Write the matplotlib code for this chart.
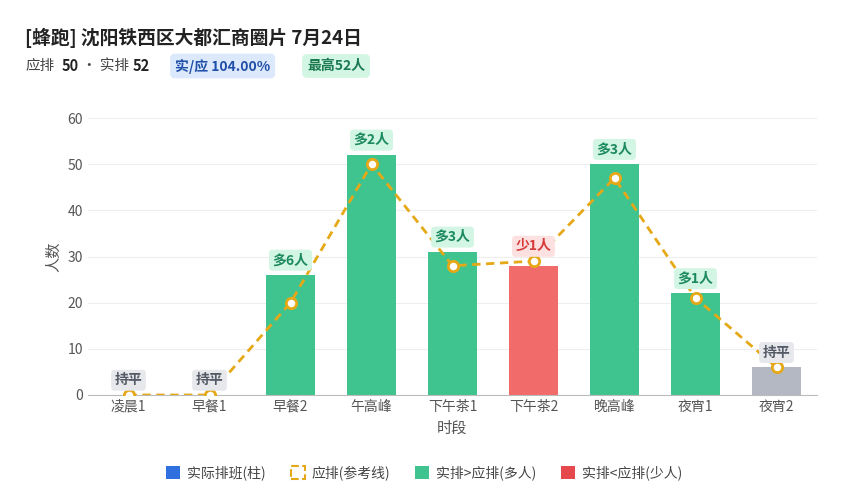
import matplotlib
matplotlib.use('Agg')
import matplotlib.pyplot as plt
from matplotlib.patches import FancyBboxPatch
from matplotlib.lines import Line2D
from matplotlib.patches import Patch

plt.rcParams['font.family'] = ['Noto Sans CJK SC', 'DejaVu Sans']

categories = ['凌晨1', '早餐1', '早餐2', '午高峰', '下午茶1', '下午茶2', '晚高峰', '夜宵1', '夜宵2']
actual = [0, 0, 26, 52, 31, 28, 50, 22, 6]
planned = [0, 0, 20, 50, 28, 29, 47, 21, 6]
labels = ['持平', '持平', '多6人', '多2人', '多3人', '少1人', '多3人', '多1人', '持平']

GREEN = '#40c48f'; RED = '#f26b6b'; GRAY = '#b3b8c3'; ORANGE = '#e5a817'

fig = plt.figure(figsize=(8.49, 5.0), dpi=100)
ax = fig.add_axes([88/849, 105/500, 729/849, 277/500])

x = range(len(categories))
cols = []
for a, p in zip(actual, planned):
    cols.append(GREEN if a > p else (RED if a < p else GRAY))
ax.bar(x, actual, width=0.6, color=cols, zorder=2)
ax.plot(x, planned, color=ORANGE, lw=2, ls=(0, (3, 2)), zorder=3)
ax.scatter(x, planned, s=55, facecolor='white', edgecolor=ORANGE, linewidth=2, zorder=4)

for i, (a, lab) in enumerate(zip(actual, labels)):
    if actual[i] > planned[i]:
        fc, tc = '#d3f5e4', '#1c8a5c'
    elif actual[i] < planned[i]:
        fc, tc = '#fde0e0', '#d53a3a'
    else:
        fc, tc = '#e6e8ec', '#555b66'
    ax.text(i, max(a, planned[i]) + 3.2, lab, ha='center', va='center', fontsize=10,
            fontweight='bold', color=tc, zorder=5,
            bbox=dict(boxstyle='round,pad=0.25', fc=fc, ec='none'))

ax.set_xlim(-0.5, 8.5)
ax.set_ylim(0, 60)
ax.set_yticks(range(0, 61, 10))
ax.set_xticks(list(x))
ax.set_xticklabels(categories)
ax.tick_params(axis='both', length=0, colors='#555', labelsize=10)
ax.grid(axis='y', color='#eeeeee', zorder=0)
for s in ['top', 'right', 'left']:
    ax.spines[s].set_visible(False)
ax.spines['bottom'].set_color('#bbbbbb')
ax.set_xlabel('时段', color='#555', fontsize=11)
ax.set_ylabel('人数', color='#555', fontsize=11)

fig.text(25/849, 1-38/500, '[蜂跑] 沈阳铁西区大都汇商圈片 7月24日', fontsize=13.5, fontweight='bold', va='center', color='#222')
fig.text(25/849, 1-66/500, '应排', fontsize=10.5, va='center', color='#444')
fig.text(62/849, 1-66/500, '50', fontsize=10.5, fontweight='bold', va='center', color='#222')
fig.text(82/849, 1-66/500, '· 实排', fontsize=10.5, va='center', color='#444')
fig.text(133/849, 1-66/500, '52', fontsize=10.5, fontweight='bold', va='center', color='#222')
fig.text(175/849, 1-66/500, '实/应 104.00%', fontsize=10, fontweight='bold', va='center', color='#1f4fa8',
         bbox=dict(boxstyle='round,pad=0.35', fc='#dce8fb', ec='none'))
fig.text(307/849, 1-66/500, '最高52人', fontsize=10, fontweight='bold', va='center', color='#1c7a50',
         bbox=dict(boxstyle='round,pad=0.35', fc='#d3f5e4', ec='none'))

handles = [Patch(fc='#2f6fde'), Patch(fc='white', ec=ORANGE, ls='--', lw=1.5),
           Patch(fc=GREEN), Patch(fc='#e5484d')]
names = ['实际排班(柱)', '应排(参考线)', '实排>应排(多人)', '实排<应排(少人)']
fig.legend(handles, names, loc='center', bbox_to_anchor=(0.5, 1-473/500), ncol=4, frameon=False,
           fontsize=10, handlelength=1.0, handleheight=1.0, columnspacing=1.8, handletextpad=0.5,
           labelcolor='#444')

fig.savefig('out.png', dpi=100)
